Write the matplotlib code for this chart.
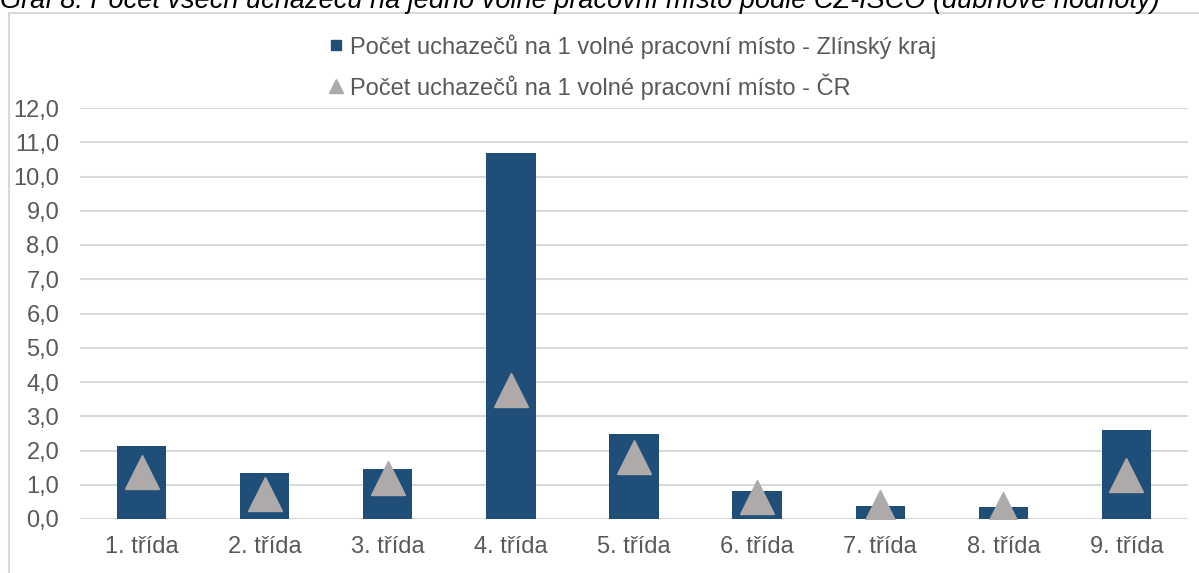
import matplotlib.pyplot as plt
from matplotlib.lines import Line2D
from matplotlib.ticker import FuncFormatter

plt.rcParams['font.family'] = ['Liberation Sans', 'DejaVu Sans']

# Data
classes = ['1. třída', '2. třída', '3. třída', '4. třída', '5. třída',
           '6. třída', '7. třída', '8. třída', '9. třída']
zlin = [2.13, 1.33, 1.45, 10.69, 2.48, 0.81, 0.38, 0.35, 2.60]
cr = [1.36, 0.74, 1.20, 3.77, 1.82, 0.63, 0.36, 0.29, 1.29]
label_zlin = 'Počet uchazečů na 1 volné pracovní místo - Zlínský kraj'
label_cr = 'Počet uchazečů na 1 volné pracovní místo - ČR'
title = 'Graf 8: Počet všech uchazečů na jedno volné pracovní místo podle CZ-ISCO (dubnové hodnoty)'

bar_color = '#1f4e79'
tri_color = '#aeaaaa'
text_color = '#595959'
grid_color = '#d9d9d9'

W, H = 1199, 573
fig = plt.figure(figsize=(W / 100, H / 100), dpi=100)
ax = fig.add_axes([80 / W, 54 / H, (1188 - 80) / W, (519 - 108) / H])

x = range(len(classes))
ax.bar(x, zlin, width=0.4, color=bar_color, zorder=2)
ax.plot(x, cr, linestyle='none', marker='^', markersize=24,
        color=tri_color, zorder=3)

ax.set_xlim(-0.5, len(classes) - 0.5)
ax.set_ylim(0, 12)
ax.set_yticks(range(0, 13))
ax.yaxis.set_major_formatter(FuncFormatter(lambda v, p: f'{v:.1f}'.replace('.', ',')))
ax.set_xticks(list(x))
ax.set_xticklabels(classes)
ax.tick_params(axis='both', length=0, labelsize=17, labelcolor=text_color)
ax.tick_params(axis='y', pad=15)
ax.tick_params(axis='x', pad=12)
ax.grid(axis='y', color=grid_color, linewidth=1.5, zorder=0)
ax.set_axisbelow(True)
for s in ax.spines.values():
    s.set_visible(False)

# legend
handles = [
    Line2D([], [], linestyle='none', marker='s', markersize=7, color=bar_color),
    Line2D([], [], linestyle='none', marker='^', markersize=10, color=tri_color),
]
fig.legend(handles, [label_zlin, label_cr], loc='upper left',
           bbox_to_anchor=(329 / W, 1 - 34 / H), frameon=False,
           fontsize=17, labelcolor=text_color, handlelength=0.6,
           handletextpad=0.3, labelspacing=0.62, borderpad=0, borderaxespad=0)

# outer frame (partly cut)
fig.add_artist(Line2D([8.5 / W, 1198 / W], [1 - 13 / H, 1 - 13 / H],
                      transform=fig.transFigure, color=grid_color, linewidth=1.5))
fig.add_artist(Line2D([8.5 / W, 8.5 / W], [1 - 13 / H, 0],
                      transform=fig.transFigure, color=grid_color, linewidth=1.5))

fig.text(0, 1 - 8.4 / H, title, ha='left', va='baseline', style='italic',
         fontsize=19.5, color='black')

fig.savefig('out.png', dpi=100)
